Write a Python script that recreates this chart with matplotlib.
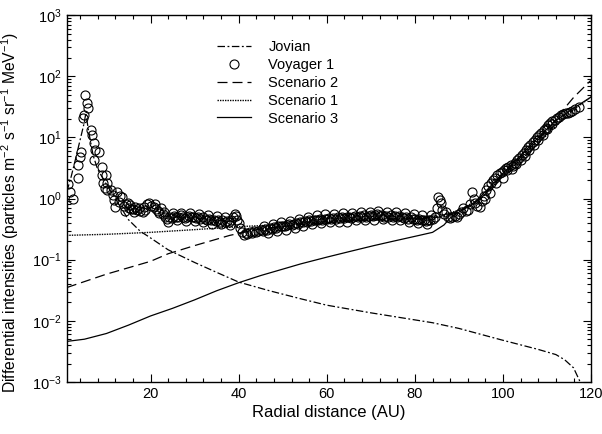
import matplotlib
matplotlib.use("Agg")
import matplotlib.pyplot as plt
from matplotlib.ticker import FixedLocator, MultipleLocator, LogLocator, NullFormatter

plt.rcParams['font.family'] = ['Liberation Sans', 'DejaVu Sans']
plt.rcParams['mathtext.fontset'] = 'custom'
plt.rcParams['mathtext.rm'] = 'Liberation Sans'
plt.rcParams['mathtext.it'] = 'Liberation Sans:italic'

# Voyager 1 observations (AU, intensity)
v1_r = [1.2, 1.8, 2.5, 3.6, 3.5, 4.1, 4.3, 4.6, 4.8, 5.2, 5.6, 5.9, 6.4, 6.8,
        7.1, 7.5, 7.1, 8.2, 9.0, 9.0, 9.8, 9.3, 9.6, 10.2, 10.2, 11.0, 11.4,
        11.6, 12.0, 12.5, 12.8, 13.0, 13.6,
        13.9, 14.4, 14.8, 15.0, 15.5, 16.0, 16.5, 17.0, 17.7, 18.2, 18.7, 19.2,
        19.6, 20.1, 20.7, 21.3, 21.8, 22.3, 22.8, 23.3, 23.8, 24.3, 24.8, 25.3,
        25.8, 26.3, 26.8, 27.3, 27.8, 28.3, 28.8, 29.3, 29.8, 30.3, 30.8, 31.3,
        31.8, 32.3, 32.8, 33.3, 33.8, 34.3, 34.8, 35.3, 35.8, 36.3, 36.8, 37.3,
        37.8, 38.3, 38.8, 39.1, 39.4, 39.7, 40.0, 40.4, 40.8, 41.2, 41.6, 42.0,
        42.5, 43.0, 43.5, 44.0, 44.5, 45.0,
        45.5, 46.0, 46.5, 47.0, 47.5, 48.0, 48.5, 49.0, 49.5, 50.0, 50.5, 51.0,
        51.5, 52.0, 52.5, 53.0, 53.5, 54.0, 54.5, 55.0, 55.5, 56.0, 56.5, 57.0,
        57.5, 58.0, 58.5, 59.0, 59.5, 60.0, 60.5, 61.0, 61.5, 62.0, 62.5, 63.0,
        63.5, 64.0, 64.5, 65.0, 65.5, 66.0, 66.5, 67.0, 67.5, 68.0, 68.5, 69.0,
        69.5, 70.0, 70.5, 71.0, 71.5, 72.0, 72.5, 73.0, 73.5, 74.0, 74.5, 75.0,
        75.5, 76.0, 76.5, 77.0, 77.5, 78.0, 78.5, 79.0, 79.5, 80.0, 80.5, 81.0,
        81.5, 82.0, 82.5, 83.0, 83.5, 84.0, 84.5,
        85.0, 85.3, 85.6, 85.9, 86.2, 86.5, 87.0, 87.5, 88.0, 88.5, 89.0, 89.5,
        90.0, 90.5, 91.0, 91.5, 92.0, 92.5, 93.0, 93.3, 93.7, 94.2, 94.7, 95.2,
        95.7, 96.0, 96.2, 96.7, 97.0, 97.2, 97.7, 98.2, 98.5, 98.7, 99.2, 99.7,
        100.0, 100.2, 100.7, 101.2, 101.7, 102.2, 102.7, 103.2, 103.7, 104.2,
        104.7, 105.2, 105.7, 106.2, 106.7, 107.2, 107.7, 108.2, 108.7, 109.2,
        109.7, 110.2, 110.7, 111.2, 111.7, 112.2, 112.7, 113.2, 113.7, 114.2,
        114.7, 115.2, 115.7, 116.3, 117.2]
v1_j = [1.7, 1.3, 0.99, 2.2, 3.5, 4.8, 5.8, 21, 23, 49, 36, 30, 13, 11,
        8.1, 6.2, 4.3, 5.8, 3.3, 2.4, 2.4, 1.8, 1.5, 1.8, 1.4, 1.4, 1.15,
        0.95, 0.72, 1.28, 0.88, 1.1, 1.06,
        0.75, 0.8, 0.85, 0.7, 0.68, 0.67, 0.72, 0.65, 0.62, 0.6, 0.65, 0.8,
        0.85, 0.75, 0.72, 0.68, 0.62, 0.7, 0.55, 0.5, 0.47, 0.5, 0.48, 0.52,
        0.49, 0.5, 0.53, 0.5, 0.48, 0.5, 0.52, 0.49, 0.5, 0.48, 0.5, 0.47,
        0.49, 0.46, 0.45, 0.47, 0.44, 0.45, 0.43, 0.45, 0.42, 0.44, 0.42, 0.43,
        0.42, 0.45, 0.5, 0.55, 0.52, 0.45, 0.4, 0.33, 0.28, 0.25, 0.27, 0.26,
        0.28, 0.27, 0.3, 0.28, 0.3, 0.31,
        0.3, 0.32, 0.31, 0.33, 0.32, 0.34, 0.33, 0.35, 0.35, 0.36, 0.35, 0.37,
        0.38, 0.37, 0.39, 0.4, 0.39, 0.42, 0.41, 0.43, 0.42, 0.44, 0.43, 0.45,
        0.44, 0.45, 0.46, 0.45, 0.47, 0.46, 0.48, 0.47, 0.48, 0.47, 0.49, 0.48,
        0.5, 0.48, 0.49, 0.5, 0.48, 0.5, 0.52, 0.5, 0.51, 0.5, 0.53, 0.5,
        0.52, 0.54, 0.51, 0.53, 0.55, 0.52, 0.54, 0.5, 0.52, 0.5, 0.53, 0.5,
        0.51, 0.49, 0.52, 0.5, 0.48, 0.5, 0.47, 0.49, 0.46, 0.47, 0.45, 0.46,
        0.44, 0.45, 0.43, 0.45, 0.44, 0.46, 0.5,
        0.7, 1.05, 0.95, 0.85, 0.65, 0.55, 0.6, 0.5, 0.48, 0.5, 0.52, 0.5,
        0.55, 0.6, 0.7, 0.62, 0.65, 0.8, 1.3, 1.0, 0.85, 0.75, 0.72, 0.9,
        1.1, 1.0, 1.4, 1.6, 1.25, 1.8, 2.0, 2.2, 1.8, 2.4, 2.6, 2.7,
        2.2, 2.9, 3.2, 3.3, 3.5, 3.4, 3.8, 4.2, 4.6, 5.2,
        5.6, 6.2, 7.0, 7.5, 8.5, 9.2, 10, 11, 12, 13,
        14.5, 16, 17, 18.5, 19.5, 21, 22, 23, 24, 25,
        25.5, 26, 27, 29, 31]

# extra Voyager 1 points, the scatter that thickens the band
v1b_r = [14.2, 15.3, 16.3, 17.4, 18.5, 21.0, 22.0, 23.0, 24.0, 25.0, 26.0,
         27.0, 28.0, 29.0, 30.0, 31.0, 32.0, 33.0, 34.0, 35.0, 36.0, 37.0,
         38.0, 45.7, 46.7, 47.7, 48.7, 49.7, 50.7, 51.7, 52.7, 53.7, 54.7,
         55.7, 56.7, 57.7, 58.7, 59.7, 60.7, 61.7, 62.7, 63.7, 64.7, 65.7,
         66.7, 67.7, 68.7, 69.7, 70.7, 71.7, 72.7, 73.7, 74.7, 75.7, 76.7,
         77.7, 78.7, 79.7, 80.7, 81.7, 82.7, 83.7, 101.0, 102.0, 103.0, 104.0,
         105.0, 106.0, 107.0, 108.0, 109.0, 110.0, 111.0]
v1b_j = [0.62, 0.78, 0.6, 0.7, 0.72, 0.8, 0.58, 0.6, 0.42, 0.58, 0.44,
         0.58, 0.43, 0.57, 0.43, 0.56, 0.41, 0.53, 0.39, 0.52, 0.38, 0.5,
         0.37, 0.36, 0.275, 0.385, 0.29, 0.41, 0.31, 0.43, 0.335, 0.47, 0.36,
         0.5, 0.38, 0.53, 0.4, 0.55, 0.41, 0.56, 0.42, 0.57, 0.42, 0.585,
         0.44, 0.6, 0.44, 0.61, 0.45, 0.62, 0.46, 0.61, 0.44, 0.6, 0.44,
         0.57, 0.42, 0.55, 0.4, 0.53, 0.38, 0.53, 2.9, 3.0, 3.7, 4.3,
         5.0, 6.2, 7.4, 9.0, 11, 14, 16.5]

# Jovian electrons
jov_r = [1, 2, 3, 4, 5, 5.3, 6, 7, 8, 10, 12, 15, 17.7, 19.5, 24, 30, 35, 40,
         47, 54, 60, 70, 84, 90, 99.5, 108, 112, 114, 116, 117.5]
jov_j = [1.3, 2.3, 4.5, 9, 18, 25, 12, 5, 3, 1.7, 1.0, 0.45, 0.29, 0.24,
         0.145, 0.09, 0.062, 0.043, 0.031, 0.023, 0.018, 0.0135, 0.0093,
         0.0075, 0.0049, 0.0034, 0.0028, 0.0023, 0.0017, 0.001]

# Scenario 1 (dotted)
s1_r = [1, 10, 20, 30, 41, 45, 55, 65, 75, 82, 86, 90, 95, 100, 105, 110, 115, 120]
s1_j = [0.25, 0.26, 0.28, 0.31, 0.35, 0.36, 0.4, 0.45, 0.47, 0.48, 0.52,
        0.65, 1.0, 2.4, 5.0, 11, 25, 46]

# Scenario 2 (dashed)
s2_r = [1, 10, 20, 24, 30, 38, 45, 55, 65, 75, 82, 86, 90, 95, 100, 105, 110, 113.6, 116, 120]
s2_j = [0.035, 0.058, 0.094, 0.125, 0.17, 0.25, 0.32, 0.38, 0.43, 0.46,
        0.47, 0.5, 0.62, 1.0, 2.5, 5.5, 13, 28, 45, 87]

# Scenario 3 (solid)
s3_r = [1, 5, 10, 15, 20, 25, 30, 35, 40, 45, 50, 54, 60, 65, 70.7, 75, 81,
        84, 86.6, 88, 90, 93, 96, 100, 104, 108, 112, 116, 120]
s3_j = [0.0046, 0.005, 0.0062, 0.0085, 0.012, 0.016, 0.022, 0.031, 0.042,
        0.055, 0.07, 0.085, 0.11, 0.135, 0.17, 0.2, 0.25, 0.28, 0.37, 0.48,
        0.6, 0.8, 1.3, 2.6, 5, 10, 19, 30, 46]

x_ticks = [20, 40, 60, 80, 100, 120]
y_ticks = [1e-3, 1e-2, 1e-1, 1e0, 1e1, 1e2, 1e3]

fig = plt.figure(figsize=(6.02, 4.34), dpi=100)
ax = fig.add_axes([0.111, 0.12, 0.871, 0.845])

lw = 0.9
circ = dict(mfc='none', mec='black', mew=0.8, ms=6.5, zorder=3)
ax.plot(jov_r, jov_j, color='black', lw=lw, dashes=(6, 2, 1.5, 2), label='Jovian')
ax.plot(v1_r, v1_j, 'o', label='Voyager 1', **circ)
ax.plot(v1b_r, v1b_j, 'o', **circ)
ax.plot(s2_r, s2_j, color='black', lw=lw, dashes=(8, 4), label='Scenario 2')
ax.plot(s1_r, s1_j, color='black', lw=1.0, dashes=(1, 0.8), label='Scenario 1')
ax.plot(s3_r, s3_j, color='black', lw=lw, ls='-', label='Scenario 3')

ax.set_yscale('log')
ax.set_xlim(1, 120)
ax.set_ylim(1e-3, 1e3)
ax.xaxis.set_major_locator(FixedLocator(x_ticks))
ax.xaxis.set_minor_locator(MultipleLocator(4))
ax.yaxis.set_major_locator(FixedLocator(y_ticks))
ax.yaxis.set_minor_locator(LogLocator(base=10, subs=range(2, 10), numticks=20))
ax.yaxis.set_minor_formatter(NullFormatter())
ax.tick_params(which='both', direction='in', top=True, right=True,
               labelsize=10.5, width=0.8)
ax.tick_params(which='major', length=6)
ax.tick_params(which='minor', length=3)
for s in ax.spines.values():
    s.set_linewidth(1.0)

ax.set_xlabel('Radial distance (AU)', fontsize=12, labelpad=3)
ax.set_ylabel(r'Differential intensities (particles m$^{-2}$ s$^{-1}$ sr$^{-1}$ MeV$^{-1}$)',
              fontsize=11.3)
ax.yaxis.set_label_coords(-0.088, 0.463)

ax.legend(loc='upper left', bbox_to_anchor=(0.262, 0.967), frameon=False,
          fontsize=10.5, handlelength=2.3, handletextpad=1.2, labelspacing=0.26)

fig.savefig('out.png', dpi=100)
